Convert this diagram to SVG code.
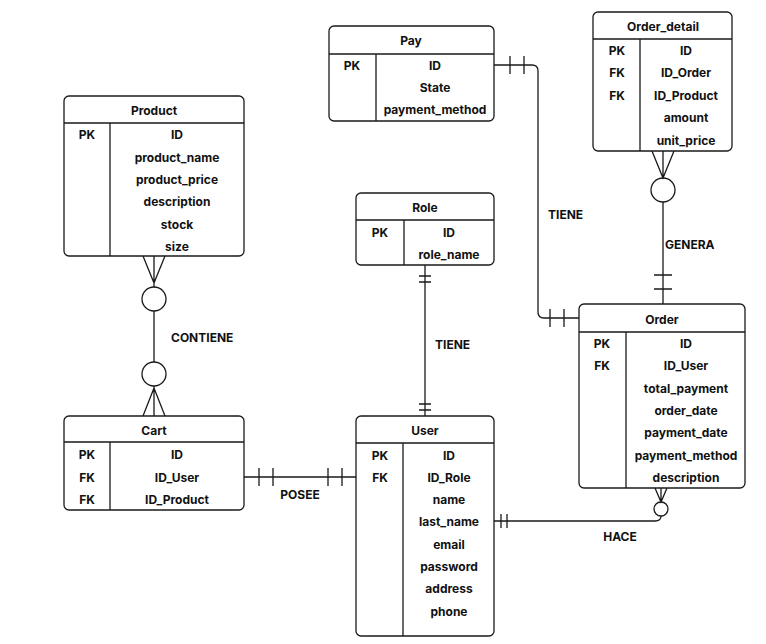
<svg xmlns="http://www.w3.org/2000/svg" width="766" height="644" viewBox="0 0 766 644">
<style>
.b{fill:#fff;stroke:#1a1a1a;stroke-width:1.3}
.l{fill:none;stroke:#1a1a1a;stroke-width:1.3}
text{font-family:Inter,"Liberation Sans",sans-serif;font-size:12px;font-weight:bold;fill:#111;text-anchor:middle;dominant-baseline:central}
.s{text-anchor:start}
</style>
<rect width="766" height="644" fill="#fff"/>
<g id="connectors" class="l">
<path d="M154 256V287M143 256L154 283L165 256"/><circle cx="154" cy="299" r="12"/>
<path d="M154 311V362M154 386V416M143 416L154 388L165 416"/><circle cx="154" cy="374" r="12"/>
<path d="M244 477H356M259 468v18M273 468v18M328 468v18M342 468v18"/>
<path d="M425 265V416M419 276h12M419 282h12M419 404h12M419 410h12"/>
<path d="M494 65H532Q538 65 538 71V312Q538 318 544 318H579M510 56v18M524 56v18M550 309v18M564 309v18"/>
<path d="M663 151V178M652 151L663 178L674 151"/><circle cx="663" cy="190" r="12"/>
<path d="M663 202V304M654 275h18M654 289h18"/>
<path d="M494 521H655Q661 521 661 516M501 514v14M507 514v14M655 488L661 502L667 488M661 488V502"/><circle cx="661" cy="509" r="7"/>
</g>
<g id="labels">
<text class="s" x="171" y="337">CONTIENE</text>
<text x="300" y="494">POSEE</text>
<text class="s" x="435" y="344">TIENE</text>
<text class="s" x="548" y="214">TIENE</text>
<text class="s" x="665" y="244">GENERA</text>
<text x="620" y="536">HACE</text>
</g>
<g id="Product">
<rect class="b" x="64" y="96" width="180" height="160" rx="5"/>
<path class="l" d="M64 123H244M110 123V256"/>
<text x="154" y="110">Product</text>
<text x="87" y="134">PK</text>
<text x="177" y="134">ID</text><text x="177" y="157">product_name</text><text x="177" y="179">product_price</text><text x="177" y="201">description</text><text x="177" y="224">stock</text><text x="177" y="246">size</text>
</g>
<g id="Cart">
<rect class="b" x="64" y="416" width="180" height="94" rx="5"/>
<path class="l" d="M64 442H244M110 442V510"/>
<text x="154" y="430">Cart</text>
<text x="87" y="454">PK</text><text x="87" y="477">FK</text><text x="87" y="499">FK</text>
<text x="177" y="454">ID</text><text x="177" y="477">ID_User</text><text x="177" y="499">ID_Product</text>
</g>
<g id="Pay">
<rect class="b" x="329" y="26" width="165" height="95" rx="5"/>
<path class="l" d="M329 54H494M376 54V121"/>
<text x="411" y="40">Pay</text>
<text x="352" y="65">PK</text>
<text x="435" y="65">ID</text><text x="435" y="87">State</text><text x="435" y="109">payment_method</text>
</g>
<g id="Role">
<rect class="b" x="356" y="193" width="138" height="72" rx="5"/>
<path class="l" d="M356 220H494M404 220V265"/>
<text x="425" y="207">Role</text>
<text x="380" y="232">PK</text>
<text x="449" y="232">ID</text><text x="449" y="254">role_name</text>
</g>
<g id="User">
<rect class="b" x="356" y="416" width="138" height="220" rx="5"/>
<path class="l" d="M356 443H494M403 443V636"/>
<text x="425" y="430">User</text>
<text x="380" y="455">PK</text><text x="380" y="477">FK</text>
<text x="449" y="455">ID</text><text x="449" y="477">ID_Role</text><text x="449" y="499">name</text><text x="449" y="521">last_name</text><text x="449" y="544">email</text><text x="449" y="566">password</text><text x="449" y="588">address</text><text x="449" y="611">phone</text>
</g>
<g id="Order_detail">
<rect class="b" x="593" y="12" width="139" height="139" rx="5"/>
<path class="l" d="M593 39H732M640 39V151"/>
<text x="663" y="26">Order_detail</text>
<text x="617" y="50">PK</text><text x="617" y="72">FK</text><text x="617" y="95">FK</text>
<text x="686" y="50">ID</text><text x="686" y="72">ID_Order</text><text x="686" y="95">ID_Product</text><text x="686" y="117">amount</text><text x="686" y="140">unit_price</text>
</g>
<g id="Order">
<rect class="b" x="579" y="304" width="166" height="184" rx="5"/>
<path class="l" d="M579 332H745M626 332V488"/>
<text x="662" y="319">Order</text>
<text x="602" y="343">PK</text><text x="602" y="365">FK</text>
<text x="686" y="343">ID</text><text x="686" y="365">ID_User</text><text x="686" y="388">total_payment</text><text x="686" y="410">order_date</text><text x="686" y="432">payment_date</text><text x="686" y="455">payment_method</text><text x="686" y="477">description</text>
</g>
</svg>
